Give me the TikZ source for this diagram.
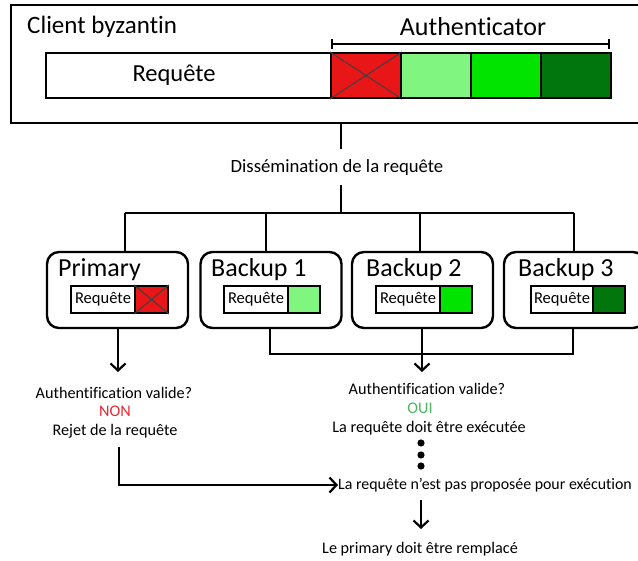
\documentclass[tikz,border=0pt]{standalone}
\usepackage{fontspec}
\setmainfont[Ligatures=NoCommon]{Carlito}
\usetikzlibrary{arrows.meta}
\definecolor{cred}{RGB}{232,22,22}
\definecolor{clgreen}{RGB}{128,245,128}
\definecolor{cgreen}{RGB}{0,228,0}
\definecolor{cdgreen}{RGB}{0,118,12}
\definecolor{tnon}{RGB}{232,40,50}
\definecolor{toui}{RGB}{80,180,100}
\tikzset{
  x=1pt, y=-1pt,
  frame/.style={draw, line width=2.6pt, rectangle, inner sep=0pt},
  server/.style={draw, line width=2.4pt, rounded corners=12pt, minimum width=141pt, minimum height=76pt, inner sep=0pt},
  cell/.style={draw, line width=2pt, minimum height=45pt, minimum width=70pt, inner sep=0pt},
  smallbox/.style={draw, line width=2pt, minimum height=27pt, inner sep=0pt},
  link/.style={line width=2.4pt},
  arr/.style={line width=2.4pt, -{Straight Barb[length=7pt, width=15pt, line width=2.2pt]}},
  lbl/.style={font=\fontsize{16.2}{19}\selectfont, inner sep=0pt},
  title/.style={font=\fontsize{26}{29}\selectfont, inner sep=0pt, anchor=west},
  stitle/.style={font=\fontsize{16.5}{19}\selectfont, inner sep=0pt},
}
\begin{document}
\begin{tikzpicture}
\useasboundingbox[fill=white] (0,0) rectangle (638,561);
% client frame
\node[frame, minimum width=634pt, minimum height=118pt] (client) at (328,64) {};
\node[title, font=\fontsize{25}{28}\selectfont] (ctitle) at (27,27) {Client byzantin};
\node[inner sep=0pt, font=\fontsize{26}{28}\selectfont] (auth) at (473,27) {Authenticator};
\coordinate (bl) at (331,44);
\coordinate (br) at (610,44);
\draw[line width=2pt, {Bar[width=10pt]}-{Bar[width=10pt]}] (bl) -- (br);
% request bar
\node[cell, minimum width=285pt] (req) at (188.5,75.5) {};
\node[inner sep=0pt, font=\fontsize{24.5}{28}\selectfont] (reqt) at (174,75.5) {Requête};
\node[cell, fill=cred] (c1) at (366,75.5) {};
\draw[line width=1pt, black!75] (c1.north west) -- (c1.south east) (c1.north east) -- (c1.south west);
\node[cell, fill=clgreen] (c2) at (436,75.5) {};
\node[cell, fill=cgreen] (c3) at (506,75.5) {};
\node[cell, fill=cdgreen] (c4) at (576,75.5) {};
% dissemination
\node[lbl, font=\fontsize{18.7}{21}\selectfont] (diss) at (337,168) {Dissémination de la requête};
\coordinate (dtop) at (341,123);
\coordinate (d1) at (341,149);
\coordinate (d2) at (341,185);
\coordinate (j) at (341,213);
\draw[link] (dtop) -- (d1);
\draw[link] (d2) -- (j);
\coordinate (jl) at (125,213);
\coordinate (jr) at (574,213);
\draw[link] (jl) -- (jr);
% servers
\node[server] (prim) at (117.5,290) {};
\node[server] (b1) at (271,290) {};
\node[server] (b2) at (422.5,290) {};
\node[server] (b3) at (574.5,290) {};
\node[title] (tp) at (58,270) {Primary};
\node[title] (t1) at (211,270) {Backup 1};
\node[title] (t2) at (366,270) {Backup 2};
\node[title] (t3) at (518,270) {Backup 3};
\draw[link] (jl) -- (jl |- prim.north);
\draw[link] (266,213) -- (266,252);
\draw[link] (420,213) -- (420,252);
\draw[link] (jr) -- (jr |- b3.north);
% inner boxes
\node[smallbox, minimum width=64pt, stitle] (rp) at (103,299.5) {Requête};
\node[smallbox, minimum width=33pt, fill=cred] (sp) at (151.5,299.5) {};
\draw[line width=1pt, black!75] (sp.north west) -- (sp.south east) (sp.north east) -- (sp.south west);
\node[smallbox, minimum width=64pt, stitle] (r1) at (256,299.5) {Requête};
\node[smallbox, minimum width=32pt, fill=clgreen] (s1) at (304,299.5) {};
\node[smallbox, minimum width=64pt, stitle] (r2) at (408,299.5) {Requête};
\node[smallbox, minimum width=32pt, fill=cgreen] (s2) at (456,299.5) {};
\node[smallbox, minimum width=62pt, stitle] (r3) at (562,299.5) {Requête};
\node[smallbox, minimum width=32pt, fill=cdgreen] (s3) at (609,299.5) {};
% bottom left
\coordinate (pa) at (118,372);
\draw[arr] (118,328) -- (pa);
\node[lbl] (av1) at (114,393) {Authentification valide?};
\node[lbl, text=tnon] (non) at (115,411) {NON};
\node[lbl] (rej) at (115,431) {Rejet de la requête};
% bottom right
\coordinate (h1) at (270,354);
\coordinate (h3) at (573,354);
\draw[link] (270,328) -- (h1) -- (h3) -- (573,328);
\draw[arr] (422,328) -- (422,372);
\node[lbl] (av2) at (427,389) {Authentification valide?};
\node[lbl, text=toui] (oui) at (420,408) {OUI};
\node[lbl] (exe) at (429,428) {La requête doit être exécutée};
\foreach \yy in {443,455,466} \fill (421,\yy) circle (3.6pt);
\node[lbl, anchor=west, font=\fontsize{15.9}{19}\selectfont] (np) at (338,485) {La requête n{\char"27}est pas proposée pour exécution};
\coordinate (lp) at (119,447);
\draw[arr] (lp) |- (np.west);
\coordinate (ra) at (421,500);
\draw[arr] (ra) -- (421,529);
\node[lbl] (rep) at (420,549) {Le primary doit être remplacé};
\end{tikzpicture}
\end{document}
